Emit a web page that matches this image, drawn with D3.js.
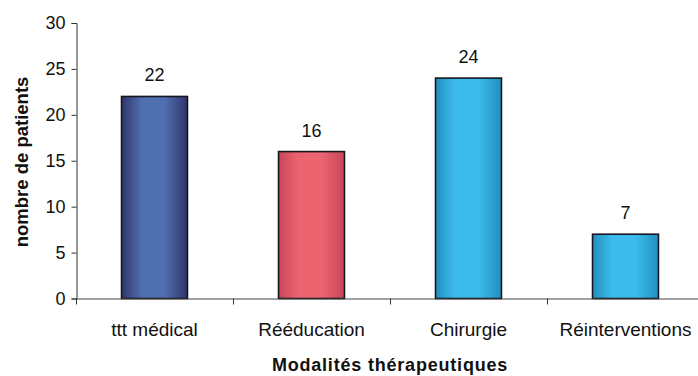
<!DOCTYPE html>
<html>
<head>
<meta charset="utf-8">
<script src="https://cdn.jsdelivr.net/npm/d3@7"></script>
<style>
  html, body { margin: 0; padding: 0; background: #fff; }
  svg { display: block; font-family: "Liberation Sans", Arial, sans-serif; }
</style>
</head>
<body>
<svg id="chart" width="698" height="376"></svg>
<script>
// Nombre de patients par modalité thérapeutique
const categories = ["ttt médical", "Rééducation", "Chirurgie", "Réinterventions"];
const patients = [22, 16, 24, 7];
const yTicks = [0, 5, 10, 15, 20, 25, 30];

// Couleurs des barres : [bord, centre]
const palette = [
  ["#30346a", "#4f6fb0"],
  ["#c8465a", "#ec6470"],
  ["#2290c0", "#3cbcec"],
  ["#2290c0", "#3cbcec"]
];

const svg = d3.select("#chart");
const x0 = 76, x1 = 704, yTop = 23, yBase = 298.5;

const x = d3.scaleBand()
  .domain(categories)
  .range([x0, x1])
  .paddingInner(0.58)
  .paddingOuter(0.29);

const y = d3.scaleLinear().domain([0, 30]).range([yBase, yTop]);

// Dégradés horizontaux (effet cylindre)
const defs = svg.append("defs");
palette.forEach((c, i) => {
  const g = defs.append("linearGradient")
    .attr("id", "grad" + i)
    .attr("x1", "0%").attr("x2", "100%").attr("y1", "0%").attr("y2", "0%");
  g.append("stop").attr("offset", "0%").attr("stop-color", c[0]);
  g.append("stop").attr("offset", "30%").attr("stop-color", c[1]);
  g.append("stop").attr("offset", "65%").attr("stop-color", c[1]);
  g.append("stop").attr("offset", "100%").attr("stop-color", c[0]);
});

// Axe Y
const yAxis = d3.axisLeft(y).tickValues(yTicks).tickSize(5).tickPadding(6);
const gy = svg.append("g").attr("transform", `translate(${x0 + 0.5},0)`).call(yAxis);
gy.select(".domain").attr("stroke", "#333");
gy.selectAll(".tick line").attr("stroke", "#333");
gy.selectAll(".tick text").attr("font-size", 18).attr("fill", "#111")
  .attr("font-family", "'Liberation Sans', Arial, sans-serif");

// Barres
svg.append("g").selectAll("rect")
  .data(patients)
  .join("rect")
  .attr("x", (d, i) => x(categories[i]))
  .attr("y", d => y(d))
  .attr("width", x.bandwidth())
  .attr("height", d => y(0) - y(d))
  .attr("fill", (d, i) => `url(#grad${i})`)
  .attr("stroke", "#161620")
  .attr("stroke-width", 1.6);

// Étiquettes de valeurs
svg.append("g").selectAll("text")
  .data(patients)
  .join("text")
  .attr("x", (d, i) => x(categories[i]) + x.bandwidth() / 2)
  .attr("y", d => y(d) - 15)
  .attr("text-anchor", "middle")
  .attr("font-size", 18)
  .attr("fill", "#111")
  .text(d => d);

// Axe X : ligne, graduations entre catégories, libellés centrés
svg.append("line")
  .attr("x1", x0).attr("x2", 698)
  .attr("y1", yBase + 0.5).attr("y2", yBase + 0.5)
  .attr("stroke", "#444").attr("stroke-width", 1);

const step = x.step();
const boundaries = categories.map(c => x(c) - (step - x.bandwidth()) / 2);
svg.append("g").selectAll("line")
  .data(boundaries)
  .join("line")
  .attr("x1", d => d + 0.5).attr("x2", d => d + 0.5)
  .attr("y1", yBase).attr("y2", yBase + 6)
  .attr("stroke", "#333");

const xAxis = d3.axisBottom(x).tickSize(0).tickPadding(0);
const gx = svg.append("g").attr("transform", `translate(0,${yBase})`).call(xAxis);
gx.select(".domain").remove();
gx.selectAll(".tick text")
  .attr("dy", null)
  .attr("y", 37)
  .attr("font-size", 19)
  .attr("fill", "#111")
  .attr("font-family", "'Liberation Sans', Arial, sans-serif");

// Titres des axes
svg.append("text")
  .attr("x", (x0 + x1) / 2)
  .attr("y", 371)
  .attr("text-anchor", "middle")
  .attr("font-size", 18)
  .attr("font-weight", "bold")
  .attr("letter-spacing", 0.8)
  .attr("fill", "#111")
  .text("Modalités thérapeutiques");

svg.append("text")
  .attr("transform", `translate(28,162) rotate(-90)`)
  .attr("text-anchor", "middle")
  .attr("font-size", 18.5)
  .attr("font-weight", "bold")
  .attr("fill", "#111")
  .text("nombre de patients");
</script>
</body>
</html>
